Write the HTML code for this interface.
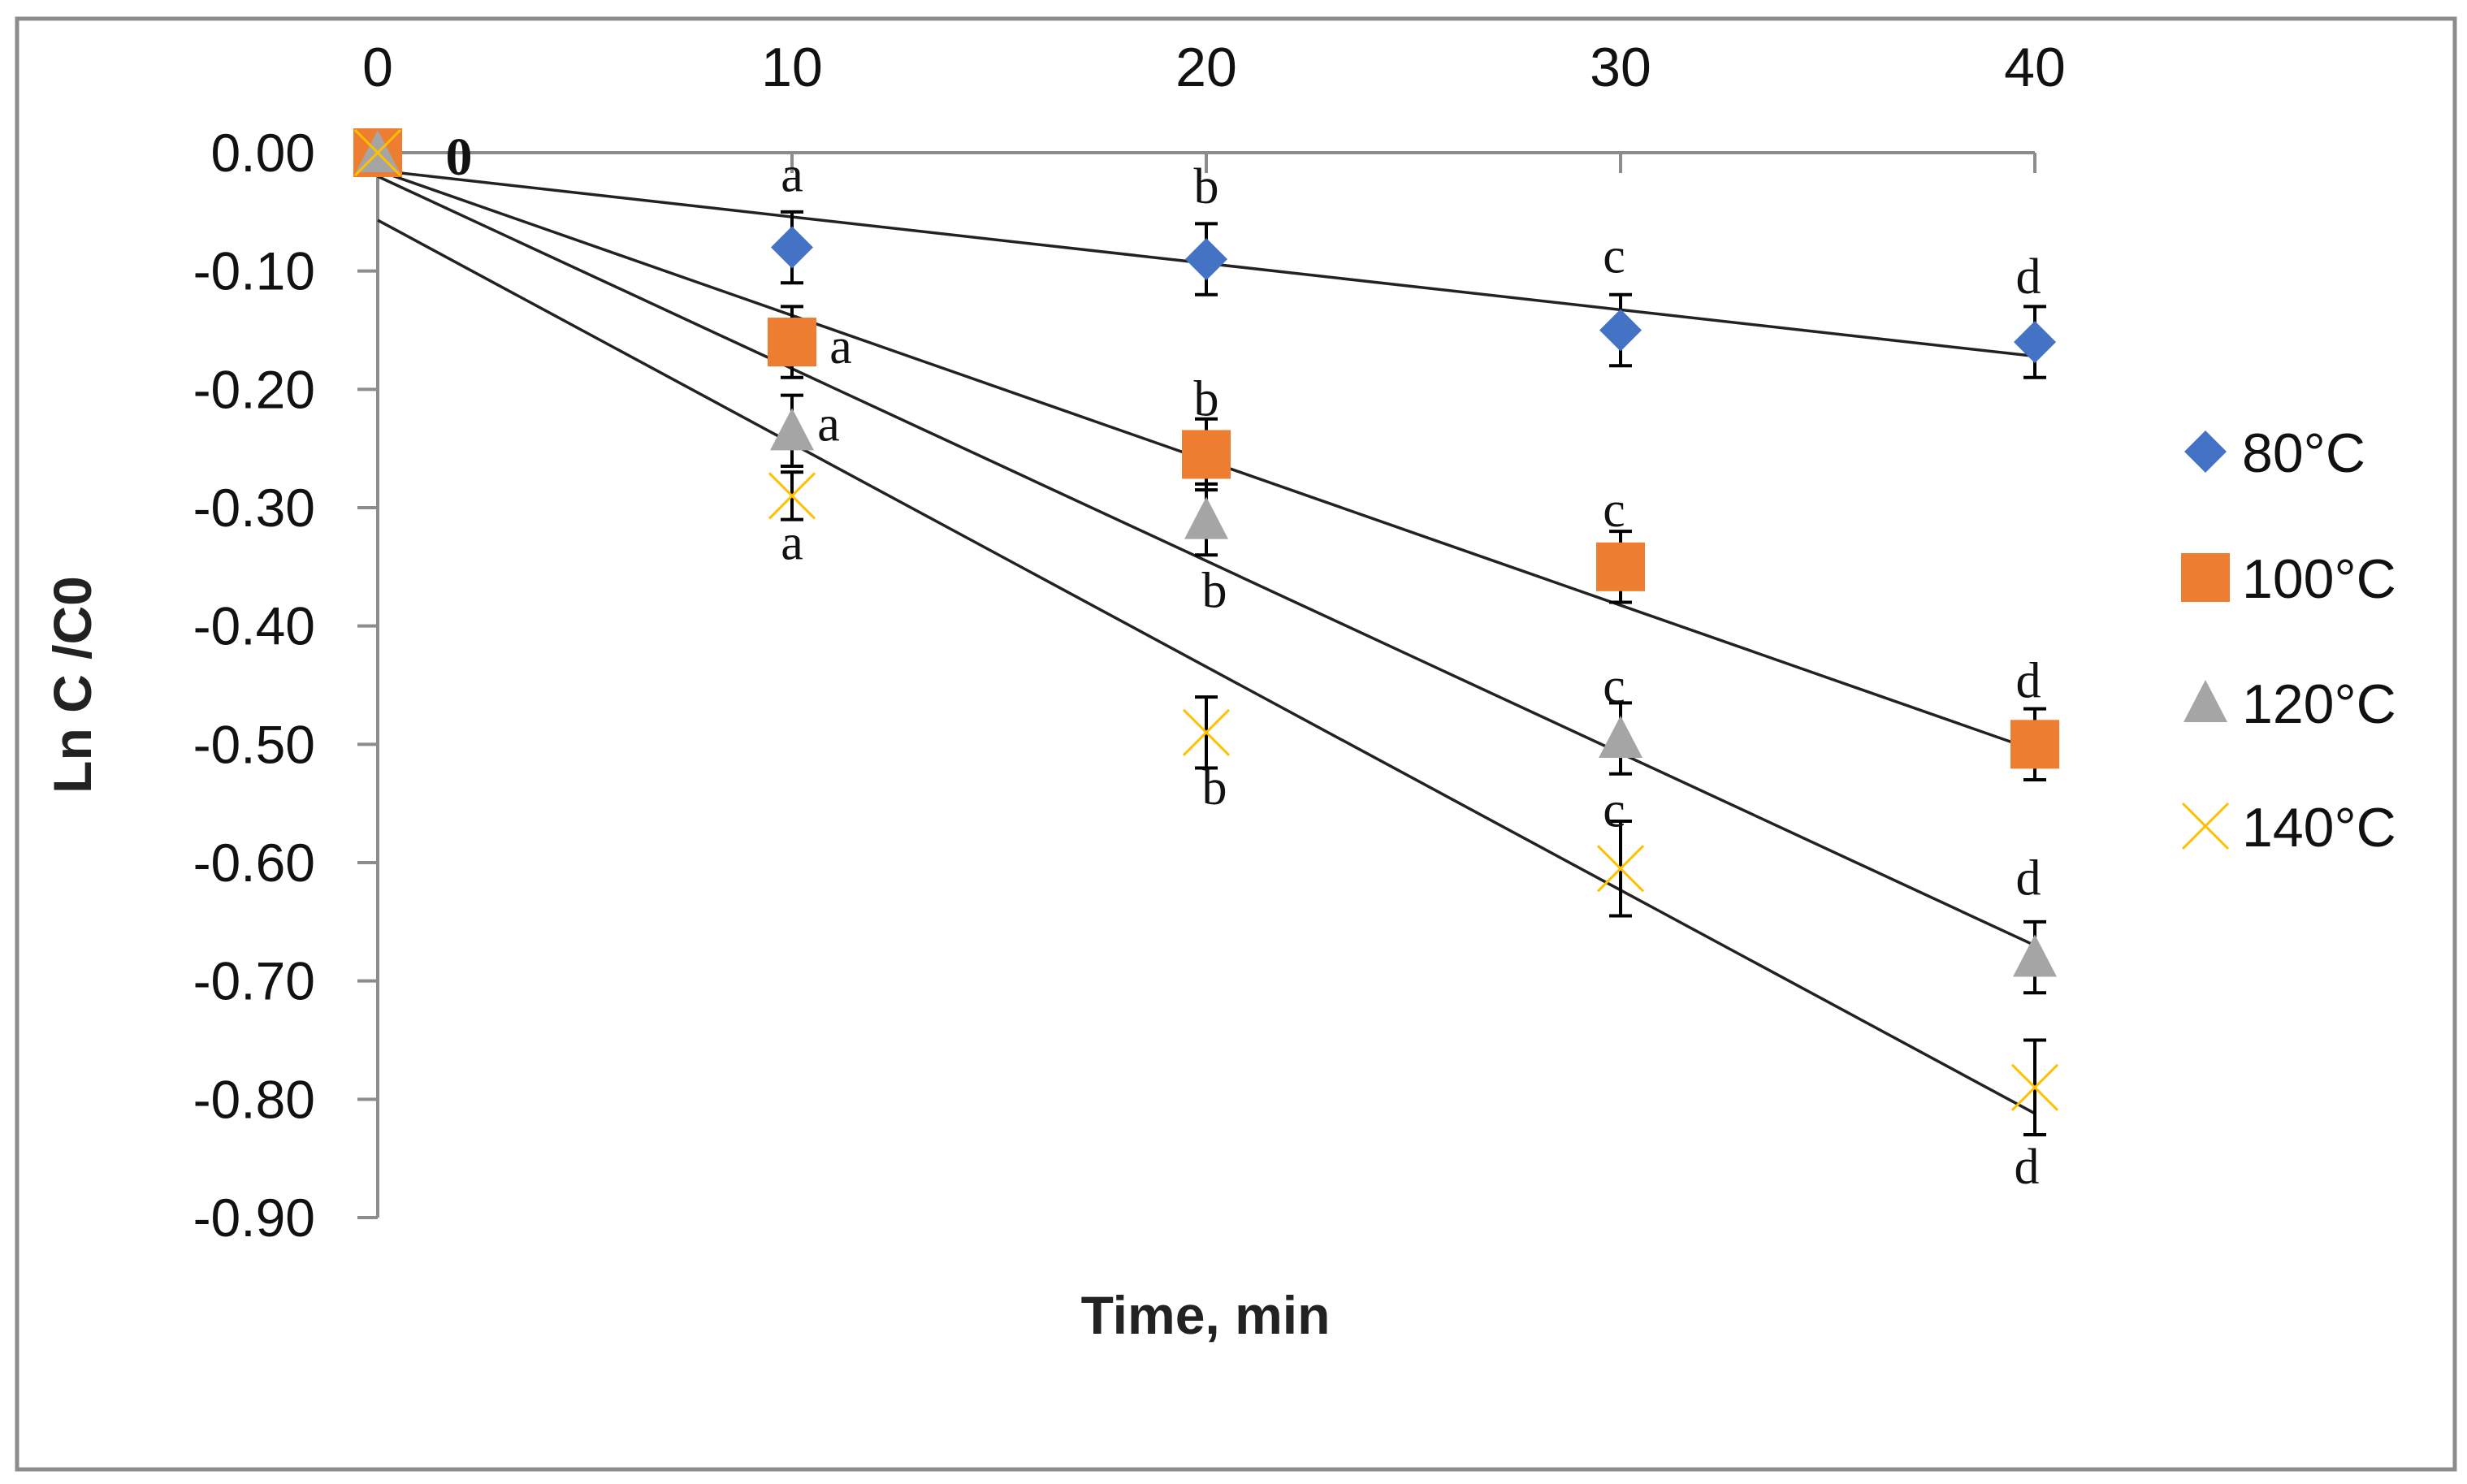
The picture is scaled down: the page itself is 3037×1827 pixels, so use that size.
<!DOCTYPE html>
<html><head><meta charset="utf-8"><style>
html,body{margin:0;padding:0;background:#fff;}
svg{display:block;font-family:"Liberation Sans",sans-serif;}
</style></head><body>
<svg id="chart" width="3037" height="1827" viewBox="0 0 3037 1827" xmlns="http://www.w3.org/2000/svg">
<rect x="21" y="23" width="3001" height="1786" fill="#fff" stroke="#8c8c8c" stroke-width="5"/>
<g id="axes"></g>
<g id="trend"></g>
<g id="marks"></g>
<g id="legend"></g>
<text transform="translate(112,843) rotate(-90)" text-anchor="middle" font-size="66" font-weight="bold" fill="#222">Ln C /C0</text>
<text x="1484" y="1642" text-anchor="middle" font-size="66" font-weight="bold" fill="#222">Time, min</text>
</svg>
<script>
const times=[0,10,20,30,40];
const xTicks=[0,10,20,30,40];
const yTicks=[0,-0.1,-0.2,-0.3,-0.4,-0.5,-0.6,-0.7,-0.8,-0.9];
const seriesNames=["80°C","100°C","120°C","140°C"];
const s80=[0,-0.08,-0.09,-0.15,-0.16];
const s100=[0,-0.16,-0.255,-0.35,-0.50];
const s120=[0,-0.235,-0.31,-0.495,-0.68];
const s140=[0,-0.29,-0.49,-0.605,-0.79];
const err80=[0,0.03,0.03,0.03,0.03];
const err100=[0,0.03,0.03,0.03,0.03];
const err120=[0,0.03,0.03,0.03,0.03];
const err140=[0,0.02,0.03,0.04,0.04];
const trendStart=[-0.015,-0.015,-0.02,-0.057];
const trendEnd=[-0.172,-0.505,-0.67,-0.812];
const letters=["a","b","c","d"];

const NS="http://www.w3.org/2000/svg";
const X=v=>465+(v-0)*(2505-465)/40;
const Y=v=>188+(0-v)*(1499-188)/0.9;
function mk(tag,attrs,parent,txt){const e=document.createElementNS(NS,tag);for(const k in attrs)e.setAttribute(k,attrs[k]);if(txt!==undefined)e.textContent=txt;parent.appendChild(e);return e;}
const axes=document.getElementById('axes');
let e;
e=mk('line',{x1:X(0),y1:Y(0),x2:X(40),y2:Y(0),stroke:'#8c8c8c','stroke-width':4},axes);


e=mk('line',{x1:X(0),y1:Y(0),x2:X(0),y2:Y(-0.9),stroke:'#8c8c8c','stroke-width':4},axes);


xTicks.forEach(t=>{
  const l=mk('line',{x1:X(t),y1:Y(0),x2:X(t),y2:Y(0)+25,stroke:'#8c8c8c','stroke-width':4},axes);
  
  
  const tx=mk('text',{x:X(t),y:106,'text-anchor':'middle','font-size':68,fill:'#111'},axes,String(t));
  
  
});
yTicks.forEach(t=>{
  const l=mk('line',{x1:X(0)-25,y1:Y(t),x2:X(0),y2:Y(t),stroke:'#8c8c8c','stroke-width':4},axes);
  
  
  const tx=mk('text',{x:388,y:Y(t)+23,'text-anchor':'end','font-size':66,fill:'#111'},axes,t.toFixed(2).replace('-0.00','0.00'));
  
  
});
const trend=document.getElementById('trend');
for(let i=0;i<4;i++){
  const l=mk('line',{x1:X(0),y1:Y(trendStart[i]),x2:X(40),y2:Y(trendEnd[i]),stroke:'#222','stroke-width':3.5},trend);
  
  
}
const marks=document.getElementById('marks');
function marker(type,cx,cy,g){
  if(type===0) return mk('polygon',{points:`${cx},${cy-26} ${cx+26},${cy} ${cx},${cy+26} ${cx-26},${cy}`,fill:'#4472c4'},g);
  if(type===1) return mk('rect',{x:cx-30,y:cy-30,width:60,height:60,fill:'#ed7d31'},g);
  if(type===2) return mk('polygon',{points:`${cx},${cy-28} ${cx+27},${cy+24} ${cx-27},${cy+24}`,fill:'#a5a5a5'},g);
  return mk('path',{d:`M${cx-28},${cy-28}L${cx+28},${cy+28}M${cx+28},${cy-28}L${cx-28},${cy+28}`,stroke:'#ffc000','stroke-width':3,fill:'none'},g);
}
const all=[s80,s100,s120,s140], errs=[err80,err100,err120,err140];
const lpos=[
 [[0,-87],[0,-87],[-8,-89],[-8,-78]],
 [[60,8],[0,-66],[-8,-68],[-8,-76]],
 [[45,-6],[10,90],[-8,-62],[-8,-95]],
 [[0,60],[10,70],[-8,-70],[-10,100]]
];
for(let s=0;s<4;s++){
  for(let i=0;i<times.length;i++){
    const cx=X(times[i]),cy=Y(all[s][i]);
    if(errs[s][i]>0){
      const t=Y(all[s][i]+errs[s][i]),b=Y(all[s][i]-errs[s][i]);
      const eb=mk('path',{d:`M${cx},${t}L${cx},${b}M${cx-14},${t}L${cx+14},${t}M${cx-14},${b}L${cx+14},${b}`,stroke:'#000','stroke-width':4,fill:'none'},marks);
      
      
    }
    const m=marker(s,cx,cy,marks);
    
    
    if(i>0){
      const o=lpos[s][i-1];
      const lt=mk('text',{x:cx+o[0],y:cy+o[1]+18,'text-anchor':'middle','font-size':62,'font-family':'Liberation Serif, serif',fill:'#111'},marks,letters[i-1]);
      
      
    }
  }
}
e=mk('text',{x:565,y:215,'text-anchor':'middle','font-size':66,'font-weight':'bold','font-family':'Liberation Serif, serif',fill:'#111'},marks,'0');


const legend=document.getElementById('legend');
const ly=[556,711,865,1017];
for(let s=0;s<4;s++){
  const m=marker(s,2715,ly[s],legend);
  
  
  const t=mk('text',{x:2760,y:ly[s]+25,'font-size':68,fill:'#111'},legend,seriesNames[s]);
  
  
}
</script>
</body></html>
